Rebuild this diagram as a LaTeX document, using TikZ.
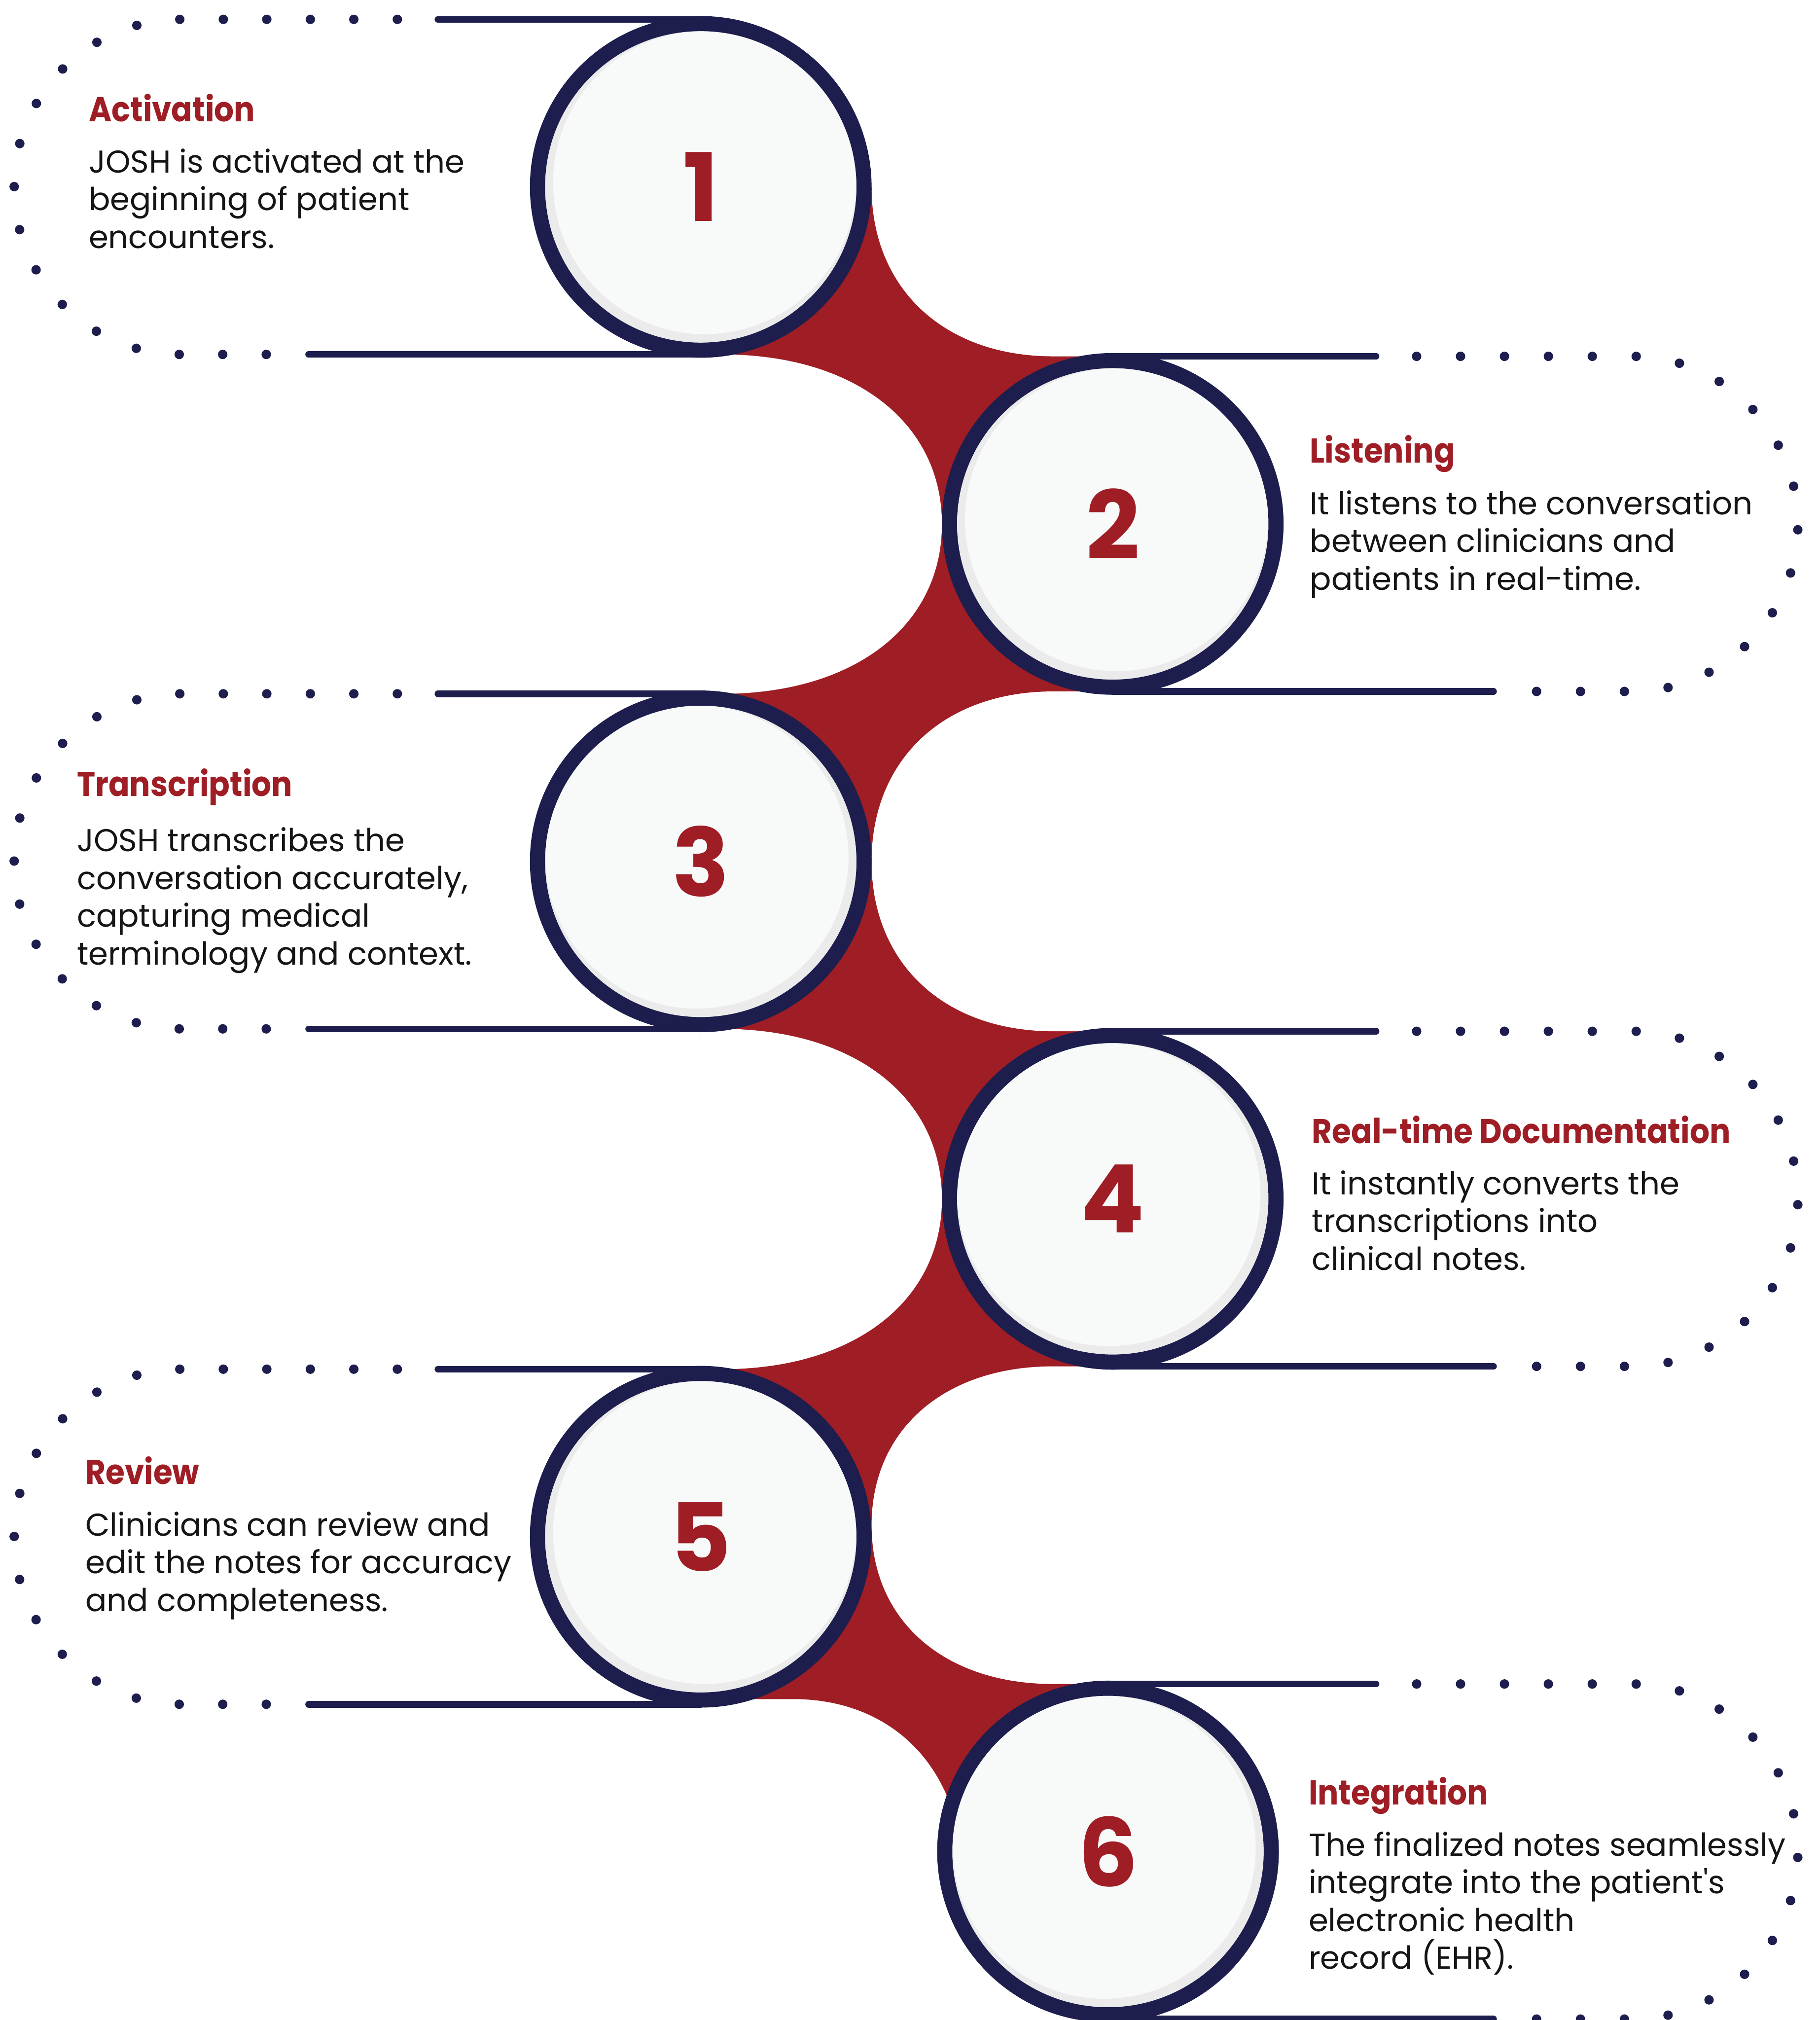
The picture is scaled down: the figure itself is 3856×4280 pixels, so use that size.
\documentclass[tikz,border=0pt]{standalone}
\usepackage{fontspec}
\setmainfont{Poppins}
\definecolor{navy}{HTML}{1D1E4D}
\definecolor{brandred}{HTML}{9F1D24}
\definecolor{disc}{HTML}{F8F9F9}
\definecolor{discshade}{HTML}{EBEBEB}
\definecolor{ink}{HTML}{151515}

% white rounded notch carved out of the red band
% #1 outer x, #2 x where the straight edge ends, #3 tip x, #4 top y, #5 bottom y
\newcommand\notchpath[5]{%
  \pgfmathsetmacro\nMid{(#4+#5)/2}%
  \pgfmathsetmacro\nHk{0.6*(#5-#4)/2}%
  \pgfmathsetmacro\nXk{#2+0.6*(#3-#2)}%
  \fill[white] (#1,#4) -- (#2,#4) .. controls (\nXk,#4) and (#3,\nMid-\nHk) .. (#3,\nMid)
     .. controls (#3,\nMid+\nHk) and (\nXk,#5) .. (#2,#5) -- (#1,#5) -- cycle;}

% left-aligned block of lines, baseline on the first line
\newcommand\linestack[1]{\vtop{\halign{##\hfil\cr#1\crcr}}}
% straight typewriter-style apostrophe
\newcommand\straightquote{{\addfontfeature{Ligatures=TeXOff}'}}

\begin{document}
\begin{tikzpicture}[x=1pt,y=-1pt,
  rail/.style={navy, line width=14pt, line cap=round},
  dotsleft/.style={navy, line width=20pt, line cap=round, dash pattern=on 0pt off 92.2pt},
  dotsright/.style={navy, line width=20pt, line cap=round, dash pattern=on 0pt off 93.05pt},
  ring/.style={draw=navy, line width=32pt},
  numeral/.style={font=\fontsize{200}{200}\selectfont\bfseries, text=brandred, inner sep=0pt},
  heading/.style={font=\fontsize{73}{80}\selectfont\bfseries\addfontfeature{FakeStretch=0.9},
                  text=brandred, inner sep=0pt, anchor=base west},
  body/.style={font=\fontsize{67}{80}\selectfont, text=ink, inner sep=0pt, anchor=base west},
]
\useasboundingbox (0,0) rectangle (3856,4280);
\clip (0,0) rectangle (3856,4280);

% red band running down between the two columns of discs
\fill[brandred] (1485,396) rectangle (2358,3923);

% notches on the left side (tips touch the right-hand discs)
\notchpath{-50}{1530}{1996}{751}{1470}
\notchpath{-50}{1530}{1996}{2180}{2901}
\notchpath{-50}{1680}{2040}{3600}{4360}
% notches on the right side (tips touch the left-hand discs)
\notchpath{3900}{2232}{1847}{37}{755}
\notchpath{3900}{2232}{1847}{1465}{2185}
\notchpath{3900}{2232}{1847}{2895}{3568}

% rails and dotted loops of the left-hand steps
\foreach \cx/\cy in {1485/396, 1485/1825, 1485/3256}{
  \draw[rail] (928,\cy-355) -- (\cx,\cy-355);
  \draw[rail] (654,\cy+355) -- (\cx,\cy+355);
  \draw[dotsleft] (842,\cy-355) -- (384,\cy-355)
     .. controls (189,\cy-355) and (30,\cy-196) .. (30,\cy)
     .. controls (30,\cy+196) and (189,\cy+355) .. (384,\cy+355) -- (566,\cy+355);
}
% rails and dotted loops of the right-hand steps
\foreach \cx/\cy in {2358/1110, 2358/2540, 2348/3923}{
  \draw[rail] (\cx,\cy-355) -- (2916,\cy-355);
  \draw[rail] (\cx,\cy+355) -- (3165,\cy+355);
  \draw[dotsright] (3002,\cy-355) -- (3460,\cy-355)
     .. controls (3653,\cy-355) and (3810,\cy-193) .. (3810,\cy)
     .. controls (3810,\cy+193) and (3653,\cy+355) .. (3460,\cy+355) -- (3250,\cy+355);
}

% numbered discs
\foreach \nm/\cx/\cy/\sx in {1/1485/396/1, 2/2358/1110/1, 3/1485/1825/-1,
                             4/2358/2540/-1, 5/1485/3256/1, 6/2348/3923/-1}{
  \fill[discshade] (\cx,\cy) circle[radius=331];
  \fill[disc] (\cx+\sx*8,\cy-9) circle[radius=321];
  \draw[ring] (\cx,\cy) circle[radius=346];
  \node[numeral] (n\nm) at (\cx,\cy) {\nm};
}

% step descriptions
\node[heading] (h1) at (188,258) {Activation};
\node[body] (b1) at (188,366) {\linestack{JOSH is activated at the\cr beginning of patient\cr encounters.}};

\node[heading] (h2) at (2776,981) {Listening};
\node[body] (b2) at (2776,1090) {\linestack{It listens to the conversation\cr between clinicians and\cr patients in real-time.}};

\node[heading] (h3) at (163,1687) {Transcription};
\node[body] (b3) at (163,1804) {\linestack{JOSH transcribes the\cr conversation accurately,\cr capturing medical\cr terminology and context.}};

\node[heading] (h4) at (2780,2423) {Real-time Documentation};
\node[body] (b4) at (2780,2531) {\linestack{It instantly converts the\cr transcriptions into\cr clinical notes.}};

\node[heading] (h5) at (181,3145) {Review};
\node[body] (b5) at (181,3254) {\linestack{Clinicians can review and\cr edit the notes for accuracy\cr and completeness.}};

\node[heading] (h6) at (2773,3824) {Integration};
\node[body] (b6) at (2773,3932) {\linestack{The finalized notes seamlessly\cr integrate into the patient\straightquote s\cr electronic health\cr record (EHR).}};
\end{tikzpicture}
\end{document}
